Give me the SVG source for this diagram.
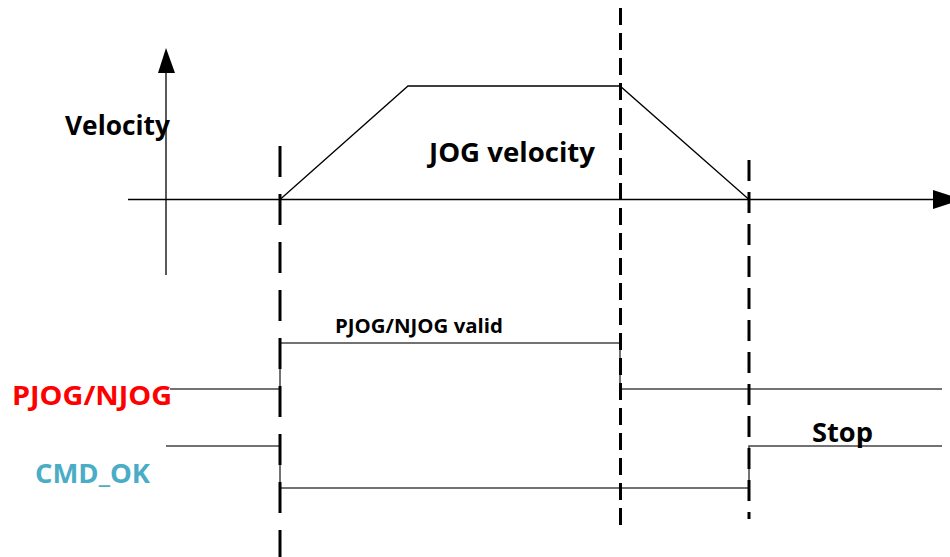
<svg xmlns="http://www.w3.org/2000/svg" width="950" height="557" viewBox="0 0 950 557">
<style>
.t{font-family:"Open Sans","Liberation Sans",sans-serif;font-weight:bold;}
.ax{stroke:#000;stroke-width:1.3;fill:none;}
.sig{stroke:#444;stroke-width:1.5;fill:none;}
.d1{stroke:#000;stroke-width:3;stroke-dasharray:31 17;fill:none;}
.d2{stroke:#000;stroke-width:3;stroke-dasharray:17 8;fill:none;}
.d3{stroke:#000;stroke-width:3;stroke-dasharray:21 11;fill:none;}
</style>
<rect width="950" height="557" fill="#fff"/>
<g id="axes">
<line class="ax" x1="166" y1="70" x2="166" y2="275"/>
<polygon points="166,48 158,73 175,73" fill="#000"/>
<line class="ax" x1="128" y1="199.5" x2="935" y2="199.5"/>
<polygon points="962,199.5 933,190 933,209" fill="#000"/>
</g>
<g id="connectors">
<polyline class="ax" points="280,199.5 408,86 620,86 749,199.5"/>
<polyline class="sig" points="170,389 280,389 280,343 620,343 620,389 942,389"/>
<polyline class="sig" points="166,446 280,446 280,488 749,488 749,446 942,446"/>
</g>
<g id="dashes">
<line class="d1" x1="280" y1="146" x2="280" y2="557"/>
<line class="d2" x1="620.5" y1="8" x2="620.5" y2="531"/>
<line class="d3" x1="749" y1="160" x2="749" y2="519"/>
</g>
<g id="labels">
<text class="t" x="65" y="135" font-size="26" textLength="105" lengthAdjust="spacingAndGlyphs">Velocity</text>
<text class="t" x="429" y="162" font-size="26" textLength="166" lengthAdjust="spacingAndGlyphs">JOG velocity</text>
<text class="t" x="335" y="333" font-size="19" textLength="168" lengthAdjust="spacingAndGlyphs">PJOG/NJOG valid</text>
<text class="t" x="12" y="405" font-size="27" fill="#FF0000" textLength="160" lengthAdjust="spacingAndGlyphs">PJOG/NJOG</text>
<text class="t" x="35" y="483" font-size="27" fill="#4BACC6" textLength="115" lengthAdjust="spacingAndGlyphs">CMD_OK</text>
<text class="t" x="812" y="442" font-size="27" textLength="61" lengthAdjust="spacingAndGlyphs">Stop</text>
</g>
</svg>
